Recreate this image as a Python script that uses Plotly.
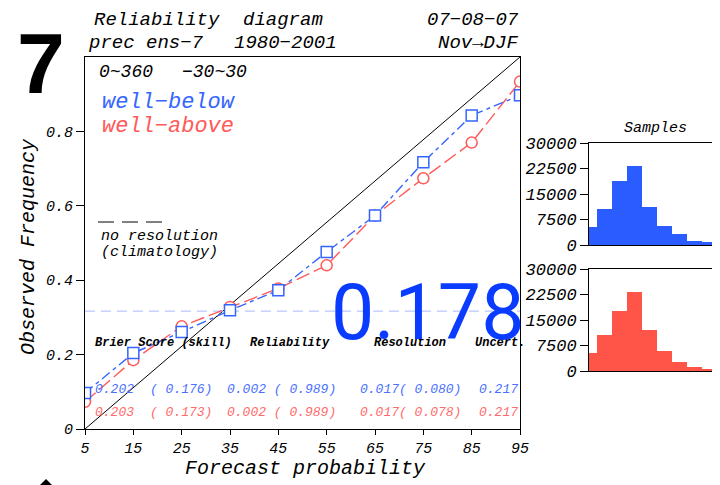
import plotly.graph_objects as go

# ---------------- data ----------------
bins = [5, 15, 25, 35, 45, 55, 65, 75, 85, 95]
blue_obs = [0.097, 0.204, 0.261, 0.319, 0.373, 0.476, 0.574, 0.717, 0.843, 0.897]
red_obs = [0.073, 0.185, 0.276, 0.328, 0.378, 0.440, 0.574, 0.674, 0.770, 0.934]
climatology = 0.317
blue_counts = [5200, 10600, 18800, 23300, 11300, 5600, 3100, 1300, 800, 500]
red_counts = [5200, 10600, 17700, 23300, 12200, 5800, 2750, 1100, 600, 400]
x_ticks = [5, 15, 25, 35, 45, 55, 65, 75, 85, 95]
y_ticks = [0, 0.2, 0.4, 0.6, 0.8]
y_tick_labels = ["0", "0.2", "0.4", "0.6", "0.8"]
hist_ticks = [0, 7500, 15000, 22500, 30000]
hist_tick_labels = ["0", "7500", "15000", "22500", "30000"]
stat_headers = ["Brier Score (skill)", "Reliability", "Resolution", "Uncert."]
blue_stats = ["0.202", "( 0.176)", "0.002 ( 0.989)", "0.017( 0.080)", "0.217"]
red_stats = ["0.203", "( 0.173)", "0.002 ( 0.989)", "0.017( 0.078)", "0.217"]
big_value = "0.178"

W, H = 720, 485
OFF = 8  # page body margin
def px(x): return (x - OFF) / W
def py(y): return 1 - (y - OFF) / H

BLUE = "#3565ff"
RED = "#ff5a5a"
BLUE_T = "#4a70ff"
RED_T = "#ff6a6a"
MONO = "Liberation Mono"

fig = go.Figure()

fig.add_trace(go.Scatter(x=[bins[0], bins[-1]], y=[0, 1], mode="lines",
                         line=dict(color="black", width=1), showlegend=False,
                         xaxis="x", yaxis="y", hoverinfo="skip"))
fig.add_trace(go.Scatter(x=[bins[0], bins[-1]], y=[climatology, climatology], mode="lines",
                         line=dict(color="#b9c8ff", width=1.2, dash="10px,6px"),
                         showlegend=False, xaxis="x", yaxis="y"))
fig.add_trace(go.Scatter(x=bins, y=red_obs, mode="lines+markers",
                         line=dict(color=RED, width=1.4, dash="14px,5px"),
                         marker=dict(symbol="circle", size=11, color="white",
                                     line=dict(color=RED, width=1.5)),
                         showlegend=False, xaxis="x", yaxis="y"))
fig.add_trace(go.Scatter(x=bins, y=blue_obs, mode="lines+markers",
                         line=dict(color=BLUE, width=1.4, dash="10px,4px,4px,4px"),
                         marker=dict(symbol="square", size=11, color="white",
                                     line=dict(color=BLUE, width=1.5)),
                         showlegend=False, xaxis="x", yaxis="y"))

fig.add_trace(go.Bar(x=bins, y=blue_counts, width=10, marker=dict(color="#2b5cff", line=dict(width=0)),
                     showlegend=False, xaxis="x2", yaxis="y2"))
fig.add_trace(go.Bar(x=bins, y=red_counts, width=10, marker=dict(color="#ff5548", line=dict(width=0)),
                     showlegend=False, xaxis="x3", yaxis="y3"))

tickfont = dict(family=MONO, size=15, color="black", style="italic")
htickfont = dict(family=MONO, size=17, color="black", style="italic")
fig.update_layout(
    width=W, height=H, margin=dict(l=0, r=0, t=0, b=0, autoexpand=False),
    paper_bgcolor="white", plot_bgcolor="white", bargap=0,
    xaxis=dict(domain=[px(85), px(520)], range=[5, 95], tickvals=x_ticks, automargin=False,
               ticks="outside", ticklen=5, tickcolor="black", showline=True, mirror=True,
               linecolor="black", linewidth=1, showgrid=False, zeroline=False, tickfont=tickfont),
    yaxis=dict(domain=[py(429), py(57)], range=[0, 1], tickvals=y_ticks, ticktext=y_tick_labels,
               automargin=False,
               ticks="outside", ticklen=8, tickcolor="black", showline=True, mirror=True,
               linecolor="black", linewidth=1, showgrid=False, zeroline=False, tickfont=tickfont),
    xaxis2=dict(domain=[px(589), px(724)], range=[5, 95], showticklabels=False, ticks="", automargin=False,
                showline=True, mirror=True, linecolor="black", showgrid=False, zeroline=False, anchor="y2"),
    yaxis2=dict(domain=[py(245), py(143)], range=[0, 30000], tickvals=hist_ticks, ticktext=hist_tick_labels,
                automargin=False,
                ticks="outside", ticklen=8, tickcolor="black", showline=True, linecolor="black",
                showgrid=False, zeroline=False, tickfont=htickfont, anchor="x2"),
    xaxis3=dict(domain=[px(589), px(724)], range=[5, 95], showticklabels=False, ticks="", automargin=False,
                showline=True, mirror=True, linecolor="black", showgrid=False, zeroline=False, anchor="y3"),
    yaxis3=dict(domain=[py(371), py(269)], range=[0, 30000], tickvals=hist_ticks, ticktext=hist_tick_labels,
                automargin=False,
                ticks="outside", ticklen=8, tickcolor="black", showline=True, linecolor="black",
                showgrid=False, zeroline=False, tickfont=htickfont, anchor="x3"),
)

ann = []
def txt(s, x, y, size, color="black", xanchor="left", family=MONO, style="italic", weight="normal", angle=0):
    ann.append(dict(text=s, x=px(x), y=py(y), xref="paper", yref="paper", xanchor=xanchor,
                    yanchor="middle", showarrow=False, textangle=angle,
                    font=dict(family=family, size=size, color=color, style=style, weight=weight)))

txt("7", 41, 63, 86, xanchor="center", family="Liberation Sans", style="normal", weight="bold")
txt("Reliability", 92, 20, 19)
txt("diagram", 241, 20, 19)
txt("07−08−07", 521, 20, 19, xanchor="right")
txt("prec ens−7", 86, 43, 19)
txt("1980−2001", 232, 43, 19)
txt("Nov→DJF", 520, 43, 19, xanchor="right")
txt("0~360", 97, 72, 18)
txt("−30~30", 180, 72, 18)
txt("well−below", 100, 103, 22, color=BLUE)
txt("well−above", 100, 126, 22, color=RED)
txt("no resolution", 99, 236, 15)
txt("(climatology)", 99, 252, 15)
for s, x in zip(stat_headers, [93, 248, 372, 473]):
    txt(s, x, 343, 12, weight="bold")
stat_x = [93, 148, 225, 358, 477]
for s, x in zip(blue_stats, stat_x):
    txt(s, x, 389, 13, color=BLUE_T)
for s, x in zip(red_stats, stat_x):
    txt(s, x, 412, 13, color=RED_T)
txt("Forecast probability", 305, 468, 20, xanchor="center")
txt("Observed Frequency", 28, 247, 20, xanchor="center", angle=-90)
txt("Samples", 655, 128, 15, xanchor="center")
txt(big_value, 526, 313, 77, color="#0a3cff", xanchor="right", family="Roboto", style="normal")

fig.update_layout(annotations=ann)
for x0 in (98, 122, 146):
    fig.add_shape(type="line", xref="paper", yref="paper", x0=px(x0), x1=px(x0 + 16),
                  y0=py(222), y1=py(222), line=dict(color="black", width=1))
fig.add_shape(type="path", xref="paper", yref="paper",
              path=f"M {px(39)},{py(486)} L {px(46)},{py(479)} L {px(53)},{py(486)} Z",
              fillcolor="black", line=dict(color="black", width=0))

fig.write_html("out.html")
